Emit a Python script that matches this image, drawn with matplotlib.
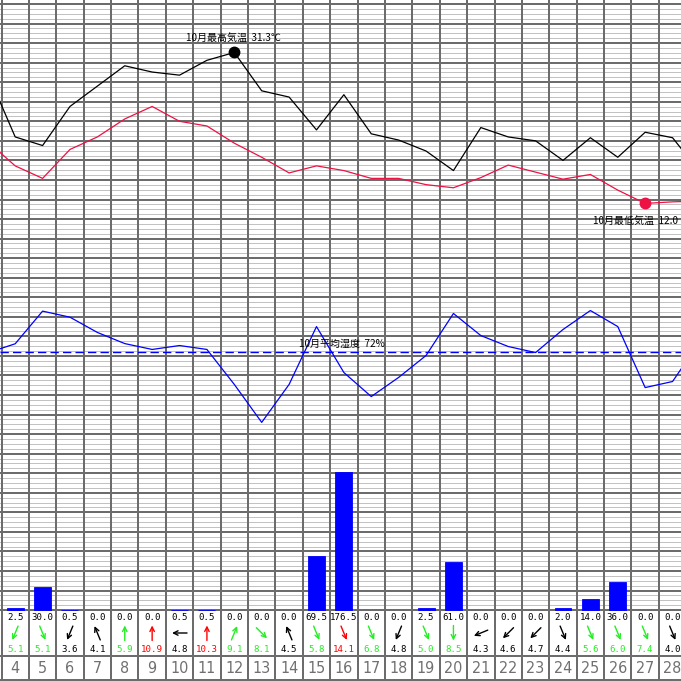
import matplotlib
matplotlib.use('Agg')
import matplotlib.pyplot as plt
import numpy as np

plt.rcParams['font.family'] = ['Noto Sans CJK JP', 'DejaVu Sans']

# ---------------- data ----------------
days = list(range(4, 29))
# values of the neighbouring days (only the clipped line ends are visible)
tmax_prev, tmax_next = 28.6, 16.0
tmax = [20.5, 19.4, 24.4, 27.0, 29.6, 28.8, 28.4, 30.3, 31.3, 26.4, 25.6, 21.4, 25.9,
        20.9, 20.1, 18.7, 16.2, 21.7, 20.5, 20.0, 17.5, 20.4, 17.9, 21.1, 20.4]
tmin_prev, tmin_next = 19.9, 12.3
tmin = [16.8, 15.2, 18.9, 20.5, 22.8, 24.4, 22.5, 21.9, 19.7, 17.9, 15.9, 16.8, 16.2,
        15.2, 15.2, 14.4, 14.0, 15.3, 16.9, 16.0, 15.1, 15.7, 13.7, 12.0, 12.2]
hum_prev, hum_next = 71.6, 77.4
hum = [76.2, 92.9, 89.8, 82.0, 76.3, 73.3, 75.3, 73.3, 55.4, 36.0, 55.4, 85.0, 61.5,
       49.2, 59.0, 70.2, 91.7, 80.4, 74.8, 71.7, 83.5, 93.2, 85.0, 53.8, 56.9]
hum_avg = 72
precip = [2.5, 30.0, 0.5, 0.0, 0.0, 0.0, 0.5, 0.5, 0.0, 0.0, 0.0, 69.5, 176.5,
          0.0, 0.0, 2.5, 61.0, 0.0, 0.0, 0.0, 2.0, 14.0, 36.0, 0.0, 0.0]
wind_speed = [5.1, 5.1, 3.6, 4.1, 5.9, 10.9, 4.8, 10.3, 9.1, 8.1, 4.5, 5.8, 14.1,
              6.8, 4.8, 5.0, 8.5, 4.3, 4.6, 4.7, 4.4, 5.6, 6.0, 7.4, 4.0]
wind_from = ['NNE', 'NNW', 'NNE', 'SSE', 'S', 'S', 'E', 'S', 'SSW', 'NW', 'SSE', 'NNW', 'NNW',
             'NNW', 'NNE', 'NNW', 'N', 'ENE', 'NE', 'NE', 'NNW', 'NNW', 'NNW', 'NNW', 'NNW']
max_label = '10月最高気温  31.3℃'
min_label = '10月最低気温  12.0'
hum_label = '10月平均湿度  72%'

# ---------------- layout (pixels) ----------------
W = H = 681
CW = 27.39          # column width
X0 = 1.5            # first column boundary
G0, GS = 4.0, 19.55  # first major grid line and spacing
NMAJ = 32
BASE = G0 + GS * (NMAJ - 1)   # precipitation baseline (~610)

DARK = '#6c6c6c'
LIGHT = '#c2c2c2'

fig = plt.figure(figsize=(W / 100, H / 100), dpi=100)
bg = fig.add_axes([0, 0, 1, 1])
bg.set_xlim(0, W)
bg.set_ylim(H, 0)
bg.axis('off')

# grid
for k in range(NMAJ - 1):
    y = G0 + GS * k
    for j in range(1, 4):
        bg.axhline(y + GS / 4 * j, color=LIGHT, lw=0.72, zorder=1, snap=True,
                   antialiased=False)
for k in range(NMAJ):
    bg.axhline(G0 + GS * k, color=DARK, lw=1.44, zorder=2, snap=True, antialiased=False)
bg.axhline(656, color=DARK, lw=1.44, zorder=2, snap=True, antialiased=False)
bg.axhline(680, color=DARK, lw=1.44, zorder=2, snap=True, antialiased=False)
for k in range(len(days) + 1):
    bg.axvline(X0 + CW * k, color=DARK, lw=1.44, zorder=2, snap=True, antialiased=False)

# data axes sharing the same pixel frame
d_lo = days[0] - 0.5 - X0 / CW
d_hi = d_lo + W / CW


def data_axes(ylo, yhi):
    ax = fig.add_axes([0, 0, 1, 1], zorder=3)
    ax.set_xlim(d_lo, d_hi)
    ax.set_ylim(ylo, yhi)
    ax.axis('off')
    ax.patch.set_alpha(0)
    return ax


# temperature: 30 C at major line 3, 2.5 C per major grid step
t_ref_y, t_ppd = G0 + 3 * GS, GS / 2.5
ax_t = data_axes(30 - (H - t_ref_y) / t_ppd, 30 + t_ref_y / t_ppd)
# humidity: 70 % at major line 18, 10 % per step
h_ref_y, h_ppd = G0 + 18 * GS, GS / 10
ax_h = data_axes(70 - (H - h_ref_y) / h_ppd, 70 + h_ref_y / h_ppd)
# precipitation: 25 mm per step
p_ppd = GS / 25
ax_p = data_axes(-(H - BASE) / p_ppd, BASE / p_ppd)

xd = [days[0] - 1] + days + [days[-1] + 1]
ax_t.plot(xd, [tmax_prev] + tmax + [tmax_next], color='black', lw=0.9)
ax_t.plot(xd, [tmin_prev] + tmin + [tmin_next], color='#ee1144', lw=0.9)
imax = int(np.argmax(tmax))
imin = int(np.argmin(tmin))
ax_t.plot(days[imax], tmax[imax], 'o', color='black', ms=7.5)
ax_t.plot(days[imin], tmin[imin], 'o', color='#ee1144', ms=7.5)
ax_t.annotate(max_label, (days[imax], tmax[imax]), xytext=(-1, 15),
              textcoords='offset pixels', ha='center', va='center', fontsize=7.2)
ax_t.annotate(min_label, (days[imin], tmin[imin]), xytext=(-52, -17),
              textcoords='offset pixels', ha='left', va='center', fontsize=7.2)

ax_h.plot(xd, [hum_prev] + hum + [hum_next], color='#0000ff', lw=0.9)
ax_h.axhline(hum_avg, color='#0000ff', lw=1.0, ls=(0, (6, 3)))
ax_h.annotate(hum_label, (16, hum_avg), xytext=(-2, 8), textcoords='offset pixels',
              ha='center', va='center', fontsize=7.2)

ax_p.bar(days, precip, width=0.62, color='#0000ff', edgecolor='#0000ff',
         linewidth=[0.6 if p > 0 else 0 for p in precip])

# table rows
comp = {'N': 0, 'NNE': 22.5, 'NE': 45, 'ENE': 67.5, 'E': 90, 'ESE': 112.5, 'SE': 135,
        'SSE': 157.5, 'S': 180, 'SSW': 202.5, 'SW': 225, 'WSW': 247.5, 'W': 270,
        'WNW': 292.5, 'NW': 315, 'NNW': 337.5}
mono = dict(family='DejaVu Sans Mono', fontsize=6.6)
for i, d in enumerate(days):
    cx = X0 + CW * (i + 0.5)
    bg.text(cx, 618, f'{precip[i]:.1f}', ha='center', va='center', color='black', **mono)
    s = wind_speed[i]
    col = '#ff0000' if s >= 10 else ('#22ee22' if s >= 5 else 'black')
    bg.text(cx, 649, f'{s:.1f}', ha='center', va='center', color=col, **mono)
    ang = np.deg2rad(comp[wind_from[i]] + 180)
    vx, vy = np.sin(ang), -np.cos(ang)
    L = 15
    cy = 633
    bg.annotate('', xy=(cx + vx * L / 2, cy + vy * L / 2),
                xytext=(cx - vx * L / 2, cy - vy * L / 2),
                arrowprops=dict(arrowstyle='->', color=col, lw=1.0,
                                shrinkA=0, shrinkB=0, mutation_scale=8))
    bg.text(cx, 668.5, str(d), ha='center', va='center', color='#707070',
            family='DejaVu Sans', fontstretch='condensed', fontsize=11.5)

fig.savefig('out.png', dpi=100)
